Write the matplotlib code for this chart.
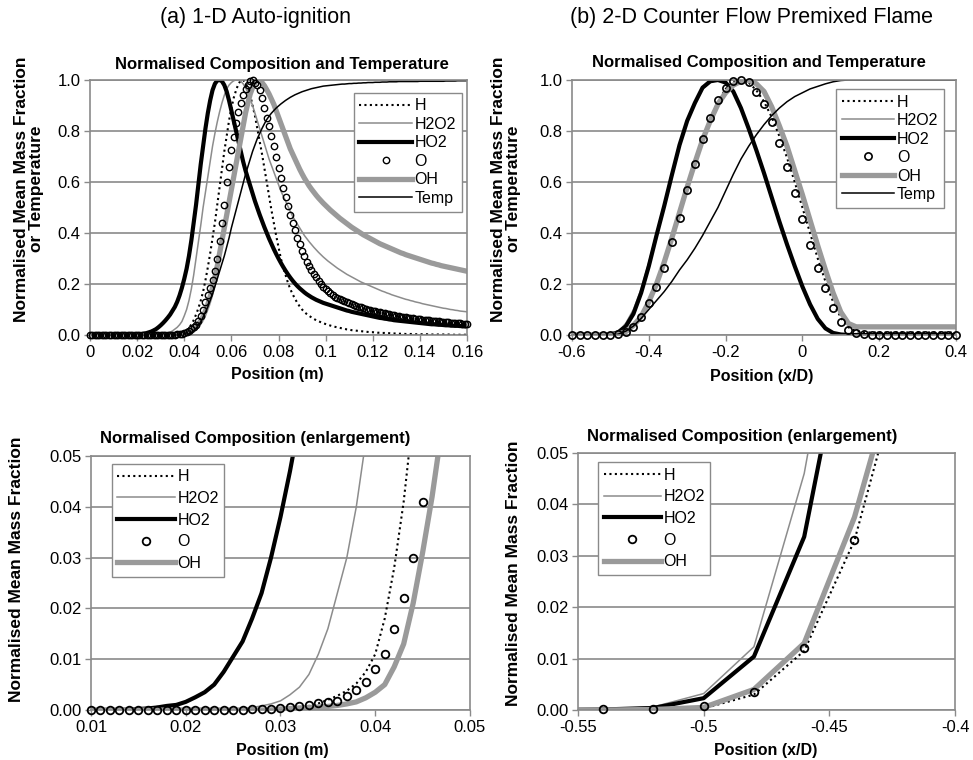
import numpy as np
import matplotlib
matplotlib.use("Agg")
import matplotlib.pyplot as plt

plt.rcParams['font.family'] = ['Liberation Sans', 'DejaVu Sans']

# ---------------- 1-D auto-ignition: normalised profiles, 1 mm spacing ----------------
ign_pos = np.round(np.arange(161) * 0.001, 3)

ign_H = [
    0, 0, 0, 0, 0, 0, 0, 0, 0, 0,
    0, 0, 0, 0, 0, 0, 0, 0, 0, 0,
    0, 0, 0, 0, 0, 0, 0, 0, 0.0001, 0.0002,
    0.0003, 0.0004, 0.0006, 0.0008, 0.0013, 0.002, 0.0028, 0.0038, 0.0052, 0.0075,
    0.011, 0.018, 0.028, 0.041, 0.058, 0.08, 0.105, 0.135, 0.17, 0.215,
    0.265, 0.32, 0.38, 0.44, 0.51, 0.58, 0.65, 0.72, 0.78, 0.84,
    0.89, 0.93, 0.96, 0.985, 0.998, 1.0, 0.99, 0.97, 0.94, 0.9,
    0.86, 0.81, 0.76, 0.71, 0.655, 0.6, 0.545, 0.49, 0.44, 0.39,
    0.345, 0.3, 0.265, 0.235, 0.205, 0.18, 0.16, 0.142, 0.126, 0.112,
    0.1, 0.09, 0.082, 0.075, 0.069, 0.063, 0.058, 0.054, 0.05, 0.046,
    0.043, 0.04, 0.037, 0.034, 0.032, 0.03, 0.028, 0.026, 0.024, 0.022,
    0.021, 0.019, 0.018, 0.017, 0.016, 0.015, 0.014, 0.013, 0.012, 0.011,
    0.011, 0.01, 0.009, 0.009, 0.008, 0.008, 0.007, 0.007, 0.006, 0.006,
    0.006, 0.005, 0.005, 0.005, 0.004, 0.004, 0.004, 0.004, 0.003, 0.003,
    0.003, 0.003, 0.003, 0.003, 0.002, 0.002, 0.002, 0.002, 0.002, 0.002,
    0.002, 0.002, 0.002, 0.001, 0.001, 0.001, 0.001, 0.001, 0.001, 0.001, 0.001,
]

ign_H2O2 = [
    0, 0, 0, 0, 0, 0, 0, 0, 0, 0,
    0, 0, 0, 0, 0, 0, 0, 0, 0, 0,
    0, 0, 0, 0, 0, 0.0001, 0.0003, 0.0005, 0.0008, 0.0012,
    0.0018, 0.003, 0.0045, 0.007, 0.011, 0.016, 0.023, 0.03, 0.04, 0.053,
    0.075, 0.1, 0.135, 0.18, 0.235, 0.3, 0.365, 0.43, 0.5, 0.56,
    0.62, 0.68, 0.74, 0.79, 0.835, 0.875, 0.91, 0.94, 0.965, 0.98,
    0.99, 0.997, 1.0, 1.0, 0.995, 0.985, 0.97, 0.95, 0.925, 0.9,
    0.87, 0.84, 0.81, 0.78, 0.75, 0.72, 0.69, 0.665, 0.64, 0.615,
    0.59, 0.565, 0.545, 0.525, 0.505, 0.485, 0.465, 0.45, 0.435, 0.42,
    0.405, 0.39, 0.378, 0.366, 0.355, 0.344, 0.334, 0.324, 0.315, 0.306,
    0.298, 0.29, 0.283, 0.276, 0.269, 0.262, 0.256, 0.25, 0.244, 0.238,
    0.233, 0.228, 0.223, 0.218, 0.213, 0.208, 0.204, 0.2, 0.196, 0.192,
    0.188, 0.184, 0.18, 0.176, 0.172, 0.169, 0.165, 0.162, 0.158, 0.155,
    0.152, 0.149, 0.146, 0.143, 0.14, 0.138, 0.135, 0.133, 0.13, 0.128,
    0.126, 0.123, 0.121, 0.119, 0.117, 0.115, 0.113, 0.111, 0.109, 0.107,
    0.105, 0.104, 0.102, 0.1, 0.099, 0.097, 0.096, 0.094, 0.093, 0.092, 0.091,
]

ign_HO2 = [
    0, 0, 0, 0, 0, 0, 0, 0, 0, 0,
    0, 0, 0, 0, 0.0001, 0.0002, 0.0003, 0.0005, 0.0008, 0.001,
    0.0016, 0.0025, 0.0035, 0.005, 0.0075, 0.0105, 0.0135, 0.018, 0.023, 0.03,
    0.038, 0.047, 0.057, 0.068, 0.08, 0.095, 0.11, 0.13, 0.155, 0.185,
    0.22, 0.26, 0.31, 0.37, 0.44, 0.51, 0.59, 0.67, 0.74, 0.81,
    0.87, 0.92, 0.96, 0.985, 0.998, 1.0, 0.995, 0.98, 0.955, 0.92,
    0.88, 0.84, 0.8, 0.76, 0.72, 0.68, 0.645, 0.615, 0.585, 0.555,
    0.525, 0.498, 0.472, 0.447, 0.423, 0.4, 0.378, 0.357, 0.337, 0.318,
    0.3, 0.283, 0.267, 0.252, 0.238, 0.225, 0.213, 0.202, 0.192, 0.183,
    0.175, 0.167, 0.16, 0.154, 0.148, 0.143, 0.138, 0.134, 0.13, 0.126,
    0.123, 0.12, 0.117, 0.114, 0.111, 0.108, 0.105, 0.102, 0.099, 0.096,
    0.094, 0.091, 0.089, 0.087, 0.085, 0.083, 0.081, 0.079, 0.077, 0.075,
    0.073, 0.071, 0.069, 0.067, 0.066, 0.064, 0.063, 0.061, 0.06, 0.058,
    0.057, 0.056, 0.055, 0.054, 0.053, 0.052, 0.051, 0.05, 0.049, 0.048,
    0.047, 0.046, 0.045, 0.044, 0.043, 0.042, 0.042, 0.041, 0.04, 0.04,
    0.039, 0.038, 0.038, 0.037, 0.037, 0.036, 0.036, 0.035, 0.035, 0.034, 0.034,
]

ign_O = [
    0, 0, 0, 0, 0, 0, 0, 0, 0, 0,
    0, 0, 0, 0, 0, 0, 0, 0, 0, 0,
    0, 0, 0, 0, 0, 0, 0, 0.0001, 0.0001, 0.0002,
    0.0003, 0.0005, 0.0007, 0.001, 0.0013, 0.0016, 0.0018, 0.0028, 0.0039, 0.0056,
    0.008, 0.011, 0.016, 0.022, 0.03, 0.041, 0.055, 0.075, 0.1, 0.13,
    0.155, 0.185, 0.215, 0.25, 0.3, 0.37, 0.44, 0.51, 0.6, 0.66,
    0.725, 0.775, 0.83, 0.875, 0.91, 0.94, 0.965, 0.98, 0.995, 1.0,
    0.99, 0.98, 0.96, 0.93, 0.89, 0.85, 0.82, 0.78, 0.74, 0.7,
    0.655, 0.615, 0.575, 0.54, 0.505, 0.47, 0.44, 0.41, 0.38, 0.355,
    0.33, 0.308, 0.288, 0.27, 0.254, 0.24, 0.226, 0.213, 0.201, 0.19,
    0.18, 0.171, 0.163, 0.156, 0.15, 0.145, 0.14, 0.136, 0.132, 0.128,
    0.124, 0.12, 0.117, 0.114, 0.111, 0.108, 0.105, 0.102, 0.1, 0.097,
    0.095, 0.093, 0.091, 0.089, 0.087, 0.085, 0.083, 0.081, 0.079, 0.077,
    0.075, 0.073, 0.072, 0.07, 0.069, 0.067, 0.066, 0.065, 0.063, 0.062,
    0.061, 0.06, 0.059, 0.058, 0.057, 0.056, 0.055, 0.054, 0.053, 0.052,
    0.051, 0.05, 0.05, 0.049, 0.048, 0.047, 0.047, 0.046, 0.045, 0.045, 0.044,
]

ign_OH = [
    0, 0, 0, 0, 0, 0, 0, 0, 0, 0,
    0, 0, 0, 0, 0, 0, 0, 0, 0, 0,
    0, 0, 0, 0, 0, 0, 0, 0, 0, 0,
    0.0002, 0.0003, 0.0004, 0.0005, 0.0006, 0.0007, 0.0009, 0.0012, 0.0016, 0.0024,
    0.0035, 0.005, 0.0085, 0.013, 0.021, 0.031, 0.042, 0.055, 0.072, 0.095,
    0.12, 0.15, 0.185, 0.225, 0.27, 0.32, 0.37, 0.42, 0.47, 0.52,
    0.57, 0.62, 0.67, 0.72, 0.77, 0.82, 0.87, 0.91, 0.945, 0.97,
    0.99, 1.0, 0.998, 0.99, 0.978, 0.962, 0.945, 0.925, 0.905, 0.88,
    0.855, 0.83, 0.805, 0.78, 0.755, 0.73, 0.71, 0.69, 0.67, 0.65,
    0.632, 0.615, 0.6, 0.585, 0.572, 0.56, 0.548, 0.537, 0.527, 0.517,
    0.508, 0.499, 0.49, 0.482, 0.474, 0.466, 0.458, 0.451, 0.444, 0.437,
    0.43, 0.423, 0.417, 0.411, 0.405, 0.399, 0.393, 0.388, 0.383, 0.378,
    0.373, 0.368, 0.363, 0.358, 0.354, 0.35, 0.346, 0.342, 0.338, 0.334,
    0.33, 0.326, 0.322, 0.319, 0.315, 0.312, 0.309, 0.306, 0.303, 0.3,
    0.297, 0.294, 0.291, 0.288, 0.285, 0.282, 0.28, 0.277, 0.275, 0.272,
    0.27, 0.268, 0.266, 0.264, 0.262, 0.26, 0.258, 0.256, 0.254, 0.252, 0.25,
]

ign_Temp = [
    0, 0, 0, 0, 0, 0, 0, 0, 0, 0,
    0, 0, 0, 0, 0, 0, 0, 0, 0, 0,
    0, 0, 0, 0, 0, 0, 0, 0, 0, 0,
    0, 0, 0, 0, 0, 0, 0, 0, 0, 0,
    0.001, 0.002, 0.005, 0.01, 0.017, 0.026, 0.038, 0.052, 0.07, 0.09,
    0.11, 0.135, 0.16, 0.19, 0.22, 0.25, 0.28, 0.31, 0.345, 0.38,
    0.42, 0.455, 0.49, 0.525, 0.56, 0.595, 0.63, 0.66, 0.69, 0.72,
    0.745, 0.77, 0.79, 0.81, 0.828, 0.845, 0.858, 0.87, 0.88, 0.89,
    0.898, 0.906, 0.913, 0.92, 0.926, 0.932, 0.937, 0.942, 0.946, 0.95,
    0.954, 0.957, 0.96, 0.963, 0.966, 0.968, 0.97, 0.972, 0.974, 0.976,
    0.977, 0.978, 0.979, 0.98, 0.981, 0.982, 0.983, 0.984, 0.984, 0.985,
    0.986, 0.986, 0.987, 0.987, 0.988, 0.988, 0.989, 0.989, 0.99, 0.99,
    0.99, 0.991, 0.991, 0.991, 0.992, 0.992, 0.992, 0.993, 0.993, 0.993,
    0.993, 0.994, 0.994, 0.994, 0.994, 0.994, 0.994, 0.994, 0.994, 0.994,
    0.995, 0.995, 0.995, 0.995, 0.995, 0.995, 0.995, 0.995, 0.995, 0.995,
    0.995, 0.996, 0.996, 0.996, 0.996, 0.996, 0.997, 0.997, 0.997, 0.997, 0.997,
]

# ---------------- 2-D counter-flow premixed flame: profiles every 0.02 x/D ----------------
flame_pos = np.round(np.arange(51) * 0.02 - 0.6, 2)

flame_H = [
    0, 0, 0, 0, 0.0001, 0.0003, 0.003, 0.0115, 0.033, 0.069,
    0.125, 0.195, 0.28, 0.375, 0.475, 0.575, 0.675, 0.77, 0.85, 0.915,
    0.965, 0.993, 1.0, 0.99, 0.96, 0.915, 0.855, 0.78, 0.695, 0.6,
    0.5, 0.4, 0.3, 0.21, 0.13, 0.068, 0.03, 0.015, 0.01, 0.01,
    0.01, 0.01, 0.01, 0.01, 0.01, 0.01, 0.01, 0.01, 0.01, 0.01, 0.01,
]

flame_H2O2 = [
    0, 0, 0, 0.0001, 0.0006, 0.0032, 0.0123, 0.046, 0.1, 0.18,
    0.285, 0.4, 0.515, 0.635, 0.75, 0.845, 0.915, 0.965, 0.99, 1.0,
    0.99, 0.955, 0.89, 0.81, 0.725, 0.635, 0.54, 0.445, 0.355, 0.27,
    0.19, 0.12, 0.063, 0.026, 0.008, 0.002, 0, 0, 0, 0,
    0, 0, 0, 0, 0, 0, 0, 0, 0, 0, 0,
]

flame_HO2 = [
    0, 0, 0, 0.0001, 0.0004, 0.0023, 0.0104, 0.0337, 0.083, 0.165,
    0.27, 0.39, 0.505, 0.627, 0.745, 0.84, 0.91, 0.97, 0.995, 1.0,
    0.99, 0.955, 0.89, 0.81, 0.725, 0.635, 0.54, 0.445, 0.355, 0.27,
    0.19, 0.12, 0.063, 0.026, 0.008, 0.002, 0, 0, 0, 0,
    0, 0, 0, 0, 0, 0, 0, 0, 0, 0, 0,
]

flame_O = [
    0, 0, 0, 0.0001, 0.0002, 0.0007, 0.0035, 0.012, 0.033, 0.072,
    0.124, 0.187, 0.264, 0.366, 0.457, 0.569, 0.669, 0.767, 0.85, 0.922,
    0.967, 0.996, 1.0, 0.991, 0.952, 0.905, 0.837, 0.752, 0.66, 0.556,
    0.455, 0.353, 0.262, 0.183, 0.105, 0.052, 0.02, 0.007, 0.002, 0.001,
    0, 0, 0, 0, 0, 0, 0, 0, 0, 0, 0,
]

flame_OH = [
    0, 0, 0, 0, 0.0001, 0.0005, 0.004, 0.013, 0.0375, 0.072,
    0.13, 0.2, 0.285, 0.38, 0.48, 0.58, 0.675, 0.765, 0.84, 0.905,
    0.95, 0.98, 0.995, 1.0, 0.985, 0.955, 0.895, 0.82, 0.74, 0.645,
    0.55, 0.45, 0.35, 0.255, 0.165, 0.09, 0.045, 0.032, 0.032, 0.032,
    0.032, 0.032, 0.032, 0.032, 0.032, 0.032, 0.032, 0.032, 0.032, 0.032, 0.032,
]

flame_Temp = [
    0, 0, 0, 0, 0, 0, 0.003, 0.015, 0.035, 0.065,
    0.1, 0.135, 0.17, 0.21, 0.255, 0.295, 0.34, 0.39, 0.445, 0.5,
    0.565, 0.63, 0.69, 0.74, 0.785, 0.825, 0.86, 0.89, 0.915, 0.935,
    0.95, 0.965, 0.975, 0.985, 0.993, 0.998, 1.0, 1.0, 1.0, 1.0,
    1.0, 1.0, 1.0, 1.0, 1.0, 1.0, 1.0, 1.0, 1.0, 1.0, 1.0,
]

# ---------------- axis tick labels ----------------
ign_xticks = ['0', '0.02', '0.04', '0.06', '0.08', '0.1', '0.12', '0.14', '0.16']
flame_xticks = ['-0.6', '-0.4', '-0.2', '0', '0.2', '0.4']
ign_zoom_xticks = ['0.01', '0.02', '0.03', '0.04', '0.05']
flame_zoom_xticks = ['-0.55', '-0.5', '-0.45', '-0.4']
full_yticks = ['0.0', '0.2', '0.4', '0.6', '0.8', '1.0']
zoom_yticks = ['0.00', '0.01', '0.02', '0.03', '0.04', '0.05']

species = ['H', 'H2O2', 'HO2', 'O', 'OH', 'Temp']

W, H = 973, 760
fig = plt.figure(figsize=(W / 100, H / 100), dpi=100)
fig.patch.set_facecolor('white')


def px_axes(left, top, right, bottom):
    return fig.add_axes([left / W, 1 - bottom / H, (right - left) / W, (bottom - top) / H])


BORDER = '#8a8a8a'


def style_axes(ax, xlabels, ylabels):
    xt = [float(s) for s in xlabels]
    yt = [float(s) for s in ylabels]
    ax.set_xlim(xt[0], xt[-1])
    ax.set_ylim(yt[0], yt[-1])
    ax.set_xticks(xt)
    ax.set_xticklabels(xlabels)
    ax.set_yticks(yt)
    ax.set_yticklabels(ylabels)
    for sp in ax.spines.values():
        sp.set_color(BORDER)
        sp.set_linewidth(1.2)
    ax.yaxis.grid(True, color=BORDER, linewidth=1.2)
    ax.set_axisbelow(True)
    ax.tick_params(axis='both', direction='out', length=4, width=1, color=BORDER,
                   labelsize=12, pad=3, labelcolor='black')


def draw_series(ax, x, data, with_temp, msize, mew):
    x = np.asarray(x)
    ax.plot(x, data['H'], color='black', lw=1.5, ls=(0, (1.0, 1.6)), label='H')
    ax.plot(x, data['H2O2'], color='#8c8c8c', lw=1.1, label='H2O2')
    ax.plot(x, data['HO2'], color='black', lw=3.0, label='HO2')
    # circles are drawn unclipped, so only the samples inside the view are kept
    xlo, xhi = ax.get_xlim()
    ylo, yhi = ax.get_ylim()
    o = np.asarray(data['O'])
    keep = (x >= xlo - 1e-9) & (x <= xhi + 1e-9) & (o <= yhi)
    ax.plot(x[keep], o[keep], ls='none', marker='o', ms=msize, mfc='none', mec='black',
            mew=mew, label='O', zorder=4, clip_on=False)
    ax.plot(x, data['OH'], color='#9a9a9a', lw=3.8, label='OH')
    if with_temp:
        ax.plot(x, data['Temp'], color='black', lw=1.1, label='Temp')


def add_legend(ax, anchor, spacing, hlen):
    leg = ax.legend(loc='upper left', bbox_to_anchor=anchor, frameon=True, fancybox=False,
                    framealpha=1, edgecolor=BORDER, fontsize=11.5, handlelength=hlen,
                    handletextpad=0.15, labelspacing=spacing, borderpad=0.35,
                    borderaxespad=0, numpoints=1)
    leg.get_frame().set_linewidth(1.0)
    leg.set_zorder(6)
    return leg


ign = dict(zip(species, [ign_H, ign_H2O2, ign_HO2, ign_O, ign_OH, ign_Temp]))
flame = dict(zip(species, [flame_H, flame_H2O2, flame_HO2, flame_O, flame_OH, flame_Temp]))

# (a) full auto-ignition profiles
ax_a = px_axes(90, 80, 467, 335)
style_axes(ax_a, ign_xticks, full_yticks)
draw_series(ax_a, ign_pos, ign, True, 4.6, 1.0)
add_legend(ax_a, (0.70, 0.95), 0.22, 3.3)

# (b) full counter-flow flame profiles
ax_b = px_axes(572, 80, 956, 335)
style_axes(ax_b, flame_xticks, full_yticks)
draw_series(ax_b, flame_pos, flame, True, 5.2, 1.2)
add_legend(ax_b, (0.688, 0.965), 0.22, 3.3)

# (c) enlargement of the auto-ignition onset
ax_c = px_axes(91, 456, 470, 710)
style_axes(ax_c, ign_zoom_xticks, zoom_yticks)
draw_series(ax_c, ign_pos, ign, False, 5.5, 1.3)
add_legend(ax_c, (0.055, 0.97), 0.42, 3.6)

# (d) enlargement of the flame leading edge
ax_d = px_axes(578, 453, 955, 710)
style_axes(ax_d, flame_zoom_xticks, zoom_yticks)
draw_series(ax_d, flame_pos, flame, False, 5.5, 1.3)
add_legend(ax_d, (0.053, 0.965), 0.42, 3.6)


def ftext(xp, yp, s, **kw):
    fig.text(xp / W, 1 - yp / H, s, ha='center', va='center', **kw)


# panel headers
ftext(255, 18, '(a) 1-D Auto-ignition', fontsize=15.5)
ftext(751, 18, '(b) 2-D Counter Flow Premixed Flame', fontsize=15.5)

# chart titles
ftext(282, 65, 'Normalised Composition and Temperature', fontsize=12, fontweight='bold')
ftext(759, 63, 'Normalised Composition and Temperature', fontsize=12, fontweight='bold')
ftext(255, 439, 'Normalised Composition (enlargement)', fontsize=12, fontweight='bold')
ftext(742, 437, 'Normalised Composition (enlargement)', fontsize=12, fontweight='bold')

# axis titles
ylab_full = 'Normalised Mean Mass Fraction\nor Temperature'
ftext(29, 189, ylab_full, fontsize=12.5, fontweight='bold', rotation=90, linespacing=1.05)
ftext(506, 189, ylab_full, fontsize=12.5, fontweight='bold', rotation=90, linespacing=1.05)
ftext(17, 569, 'Normalised Mean Mass Fraction', fontsize=12.5, fontweight='bold', rotation=90)
ftext(514, 573, 'Normalised Mean Mass Fraction', fontsize=12.5, fontweight='bold', rotation=90)

ftext(277, 375, 'Position (m)', fontsize=11.5, fontweight='bold')
ftext(762, 376, 'Position (x/D)', fontsize=11.5, fontweight='bold')
ftext(282, 750, 'Position (m)', fontsize=11.5, fontweight='bold')
ftext(766, 750, 'Position (x/D)', fontsize=11.5, fontweight='bold')

fig.savefig('out.png', dpi=100, facecolor='white')
